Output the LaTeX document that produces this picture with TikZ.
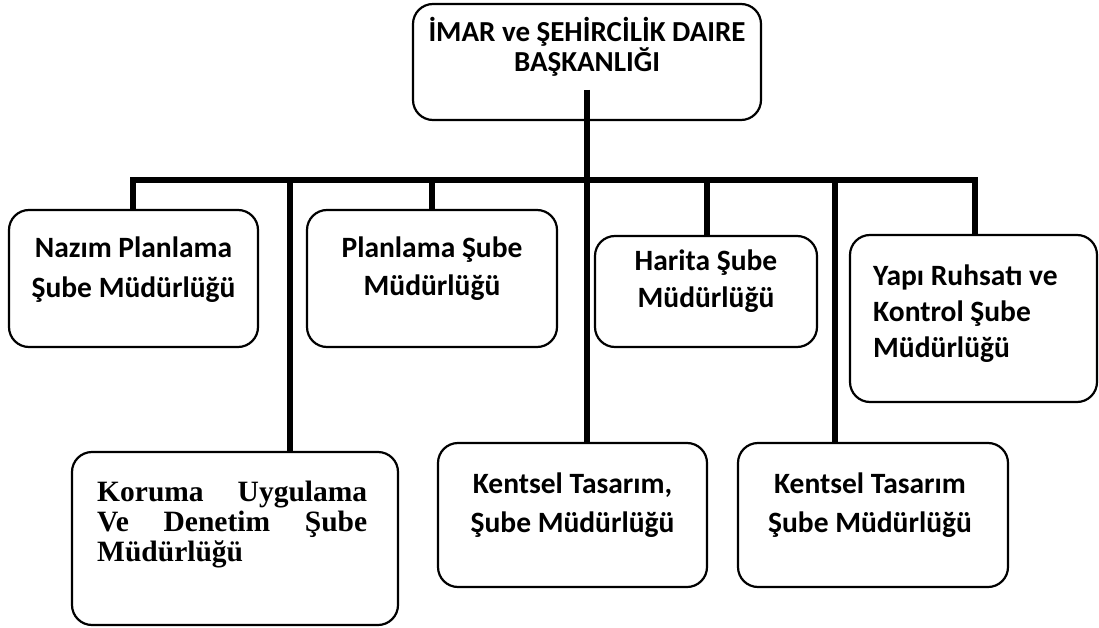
\documentclass[tikz,border=0pt]{standalone}
\usepackage{fontspec}
\setmainfont{Carlito}
\newfontfamily\timesfont{Liberation Serif}
\begin{document}
\begin{tikzpicture}[x=1pt,y=-1pt,
  box/.style={draw, line width=2.2pt, rounded corners=20pt, inner sep=0pt, outer sep=0pt},
  conn/.style={line width=5.5pt},
  txt/.style={font=\fontsize{29.5}{40}\selectfont\bfseries, anchor=base, inner sep=0pt},
  txtl/.style={txt, anchor=base west},
  toptxt/.style={txt, font=\fontsize{29}{30}\selectfont\bfseries},
  sertxt/.style={font=\fontsize{29.5}{28}\selectfont\timesfont\bfseries, anchor=base west, inner sep=0pt}]
\useasboundingbox (0,0) rectangle (1099,628);
\fill[white] (0,0) rectangle (1099,628);

% boxes
\node[box, minimum width=348pt, minimum height=116pt] (top) at (587,62) {};
\node[box, minimum width=249pt, minimum height=137pt] (nazim) at (133.5,278.5) {};
\node[box, minimum width=250pt, minimum height=137pt] (planlama) at (432,278.5) {};
\node[box, minimum width=222pt, minimum height=111pt] (harita) at (706,291.5) {};
\node[box, minimum width=247pt, minimum height=167pt] (yapi) at (973.5,318.5) {};
\node[box, minimum width=326pt, minimum height=173pt] (koruma) at (235,538.5) {};
\node[box, minimum width=269pt, minimum height=144pt] (kentsel1) at (572.5,515) {};
\node[box, minimum width=270pt, minimum height=144pt] (kentsel2) at (873,515) {};

% connectors
\coordinate (j1) at (133,180);
\coordinate (j2) at (290,180);
\coordinate (j3) at (432,180);
\coordinate (j5) at (707,180);
\coordinate (j6) at (835,180);
\coordinate (j7) at (975,180);
\coordinate (t0) at (587,90);
\draw[conn] (nazim.north -| j1) -- (j1) -- (j7) -- (yapi.north -| j7);
\draw[conn] (j2) -- (j2 |- koruma.north);
\draw[conn] (j3) -- (j3 |- planlama.north);
\draw[conn] (t0) -- (t0 |- kentsel1.north);
\draw[conn] (j5) -- (j5 |- harita.north);
\draw[conn] (j6) -- (j6 |- kentsel2.north);

% texts
\node[toptxt] (top1) at (587,42) {İMAR ve ŞEHİRCİLİK DAIRE};
\node[toptxt] (top2) at (587,72) {BAŞKANLIĞI};
\node[txt] (naz1) at (133.5,257) {Nazım Planlama};
\node[txt] (naz2) at (133.5,297) {Şube Müdürlüğü};
\node[txt] (pla1) at (432,257) {Planlama Şube};
\node[txt] (pla2) at (432,295) {Müdürlüğü};
\node[txt] (har1) at (706,270) {Harita Şube};
\node[txt] (har2) at (706,307) {Müdürlüğü};
\node[txtl] (yap1) at (873,285) {Yapı Ruhsatı ve};
\node[txtl] (yap2) at (873,321) {Kontrol Şube};
\node[txtl] (yap3) at (873,357) {Müdürlüğü};
\node[txt] (ken1a) at (572.5,493) {Kentsel Tasarım,};
\node[txt] (ken1b) at (572.5,532) {Şube Müdürlüğü};
\node[txt] (ken2a) at (870,493) {Kentsel Tasarım};
\node[txt] (ken2b) at (870,532) {Şube Müdürlüğü};
\node[sertxt] (kor1) at (97,501) {\makebox[270pt][l]{Koruma\hfill Uygulama}};
\node[sertxt] (kor2) at (97,531) {\makebox[270pt][l]{Ve\hfill Denetim\hfill Şube}};
\node[sertxt] (kor3) at (97,561) {Müdürlüğü};
\end{tikzpicture}
\end{document}
